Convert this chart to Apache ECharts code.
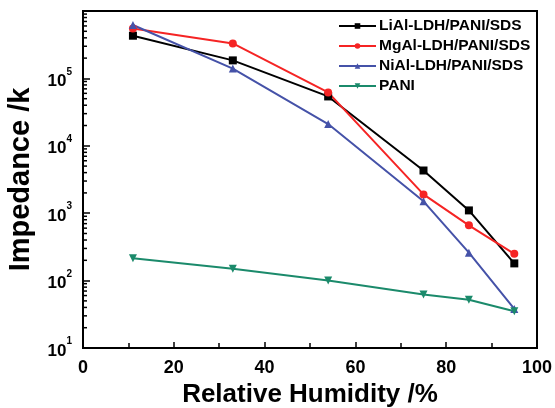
<!DOCTYPE html>
<html><head><meta charset="utf-8">
<script src="https://cdn.jsdelivr.net/npm/echarts@6/dist/echarts.min.js"></script>
<style>html,body{margin:0;padding:0;background:#fff}#c{width:555px;height:408px}</style>
</head><body><div id="c"></div>
<script>
const humidity = [11, 33, 54, 75, 85, 95];
const liAl = [430000, 185000, 54000, 4300, 1100, 180];
const mgAl = [550000, 330000, 62000, 1900, 660, 250];
const niAl = [620000, 140000, 21000, 1500, 260, 38];
const pani = [215, 150, 100, 62, 52, 35];
const seriesNames = ['LiAl-LDH/PANI/SDS', 'MgAl-LDH/PANI/SDS', 'NiAl-LDH/PANI/SDS', 'PANI'];
const xTicks = [0, 20, 40, 60, 80, 100];
const yExp = [1, 2, 3, 4, 5];

const minorVals = [];
for (let k = 1; k < 6; k++) for (let m = 2; m <= 9; m++) minorVals.push([0, m * Math.pow(10, k)]);

const font = 'Liberation Sans, Arial, sans-serif';
function mk(name, data, color, symbol) {
  return {
    name: name, type: 'line', data: humidity.map((x, i) => [x, data[i]]),
    symbol: symbol, symbolSize: 8, showSymbol: true,
    lineStyle: { color: color, width: 2 }, itemStyle: { color: color },
    z: 3
  };
}
const chart = echarts.init(document.getElementById('c'));
chart.setOption({
  animation: false,
  grid: { left: 83, right: 18, top: 11, bottom: 60, containLabel: false, outerBoundsMode: 'none',
    show: true, borderColor: '#000', borderWidth: 2, backgroundColor: 'transparent' },
  legend: {
    left: 338, top: 18, orient: 'vertical', itemGap: 4, itemWidth: 37, itemHeight: 7,
    padding: 0,
    textStyle: { fontFamily: font, fontWeight: 'bold', fontSize: 15.5, color: '#000', padding: [0, 0, 0, -2] },
    data: seriesNames
  },
  xAxis: {
    type: 'value', min: 0, max: 100, interval: 20,
    name: 'Relative Humidity /%', nameLocation: 'middle', nameGap: 33,
    nameTextStyle: { fontFamily: font, fontWeight: 'bold', fontSize: 26, color: '#000' },
    axisLine: { show: true, lineStyle: { color: '#000', width: 2 } },
    axisTick: { inside: true, length: 6, lineStyle: { color: '#000', width: 1.5 } },
    minorTick: { show: true, splitNumber: 2, length: 5, lineStyle: { color: '#000', width: 1.5 } },
    axisLabel: { fontFamily: font, fontWeight: 'bold', fontSize: 18, color: '#000', margin: 11,
      formatter: v => xTicks.indexOf(v) >= 0 ? String(v) : '' },
    splitLine: { show: false }
  },
  yAxis: {
    type: 'log', logBase: 10, min: 10, max: 1000000,
    name: 'Impedance /k', nameLocation: 'middle', nameGap: 48,
    nameTextStyle: { fontFamily: font, fontWeight: 'bold', fontSize: 29, color: '#000' },
    axisLine: { show: true, lineStyle: { color: '#000', width: 2 } },
    axisTick: { inside: true, length: 7, lineStyle: { color: '#000', width: 1.5 } },
    axisLabel: {
      margin: 11,
      formatter: v => { const e = Math.round(Math.log10(v)); return yExp.indexOf(e) >= 0 ? '{b|10}{s|' + e + '}' : ''; },
      rich: {
        b: { fontFamily: font, fontWeight: 'bold', fontSize: 17, color: '#000', padding: [6, 0, 0, 0] },
        s: { fontFamily: font, fontWeight: 'bold', fontSize: 10, color: '#000', verticalAlign: 'top', padding: [0, 0, 6, 0] }
      }
    },
    splitLine: { show: false }
  },
  series: [
    mk(seriesNames[0], liAl, '#000000', 'rect'),
    mk(seriesNames[1], mgAl, '#f52424', 'circle'),
    mk(seriesNames[2], niAl, '#4552a8', 'triangle'),
    mk(seriesNames[3], pani, '#1b8a6b', 'path://M0,0 L10,0 L5,9 Z'),
    {
      type: 'custom', silent: true, data: minorVals, z: 5,
      renderItem: function (params, api) {
        const p = api.coord([api.value(0), api.value(1)]);
        return { type: 'line', shape: { x1: p[0], y1: p[1], x2: p[0] + 4, y2: p[1] }, style: { stroke: '#000', lineWidth: 1.5 } };
      }
    }
  ]
});
</script></body></html>
